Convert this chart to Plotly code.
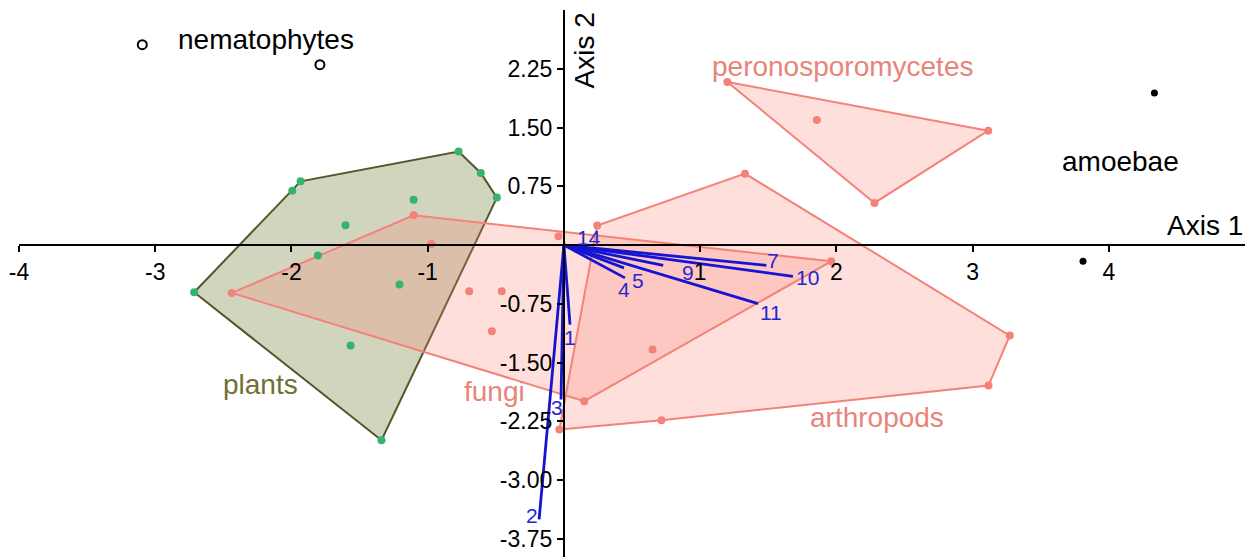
import plotly.graph_objects as go

# ---------------- data (ordination scores) ----------------
plants_x = [-2.714, -1.994, -1.933, -0.773, -0.610, -0.492, -1.339, -1.103, -1.603, -1.806, -1.207, -1.566]
plants_y = [-0.602, 0.695, 0.814, 1.193, 0.921, 0.606, -2.490, 0.580, 0.253, -0.134, -0.504, -1.282]

fungi_x = [-2.438, -1.103, 1.962, 0.150, -0.040, -0.973, -0.695, -0.456, -0.529, 0.651]
fungi_y = [-0.610, 0.380, -0.207, -1.992, 0.112, 0.015, -0.589, -0.589, -1.099, -1.333]

arthropods_x = [-0.033, 0.716, 3.117, 3.273, 1.330, 0.245]
arthropods_y = [-2.353, -2.235, -1.792, -1.154, 0.912, 0.249]

perono_x = [1.200, 3.115, 2.280, 1.857]
perono_y = [2.082, 1.460, 0.538, 1.597]

amoebae_x = [4.335, 3.811]
amoebae_y = [1.941, -0.207]

nemato_x = [-3.095, -1.791]
nemato_y = [2.557, 2.302]

vector_labels = ["1", "2", "3", "4", "5", "9", "7", "10", "11", "14"]
vector_x = [0.045, -0.182, -0.021, 0.448, 0.441, 0.729, 1.486, 1.681, 1.425, 0.10]
vector_y = [-1.014, -3.501, -1.971, -0.418, -0.291, -0.258, -0.258, -0.398, -0.746, -0.01]

x_ticks = [-4, -3, -2, -1, 1, 2, 3, 4]
x_ticktext = ["-4", "-3", "-2", "-1", "1", "2", "3", "4"]
y_ticks = [2.25, 1.5, 0.75, -0.75, -1.5, -2.25, -3.0, -3.75]
y_ticktext = ["2.25", "1.50", "0.75", "-0.75", "-1.50", "-2.25", "-3.00", "-3.75"]

X_RANGE = [-4.0, 5.0]
Y_RANGE = [-3.98, 3.0]

# label offsets (pixels) of each vector label from its arrow tip
label_shift = {"1": (0, -13), "2": (-7, 4), "3": (-4, -8), "4": (-1, -12), "5": (14, -13),
               "9": (25, -7), "7": (7, 5), "10": (15, -1), "11": (13, -9), "14": (11, 8)}

FONT = "Arial, Liberation Sans, sans-serif"
SALMON = "#f3837a"
SALMON_FILL = "rgba(250,128,114,0.25)"
GREEN = "#35b36f"
OLIVE_LINE = "#55552a"
OLIVE_FILL = "rgba(107,117,40,0.30)"
BLUE = "#1414d2"


def hull(xs, ys):
    pts = sorted(set(zip(xs, ys)))
    if len(pts) < 3:
        return pts

    def cross(o, a, b):
        return (a[0] - o[0]) * (b[1] - o[1]) - (a[1] - o[1]) * (b[0] - o[0])

    lower, upper = [], []
    for p in pts:
        while len(lower) >= 2 and cross(lower[-2], lower[-1], p) <= 0:
            lower.pop()
        lower.append(p)
    for p in reversed(pts):
        while len(upper) >= 2 and cross(upper[-2], upper[-1], p) <= 0:
            upper.pop()
        upper.append(p)
    h = lower[:-1] + upper[:-1]
    h.append(h[0])
    return h


def hull_trace(xs, ys, fill, line):
    h = hull(xs, ys)
    return go.Scatter(x=[p[0] for p in h], y=[p[1] for p in h], mode="lines",
                      fill="toself", fillcolor=fill, line=dict(color=line, width=2),
                      hoverinfo="skip", showlegend=False)


fig = go.Figure()

# polygons
fig.add_trace(hull_trace(plants_x, plants_y, OLIVE_FILL, OLIVE_LINE))
fig.add_trace(hull_trace(fungi_x, fungi_y, SALMON_FILL, SALMON))
fig.add_trace(hull_trace(arthropods_x, arthropods_y, SALMON_FILL, SALMON))
fig.add_trace(hull_trace(perono_x, perono_y, SALMON_FILL, SALMON))

# vectors
for lab, vx, vy in zip(vector_labels, vector_x, vector_y):
    fig.add_trace(go.Scatter(x=[0, vx], y=[0, vy], mode="lines",
                             line=dict(color=BLUE, width=2.8), showlegend=False,
                             hoverinfo="skip"))
    dx, dy = label_shift[lab]
    fig.add_annotation(x=vx, y=vy, text=lab, showarrow=False, xanchor="center",
                       yanchor="middle", xshift=dx, yshift=dy,
                       font=dict(family=FONT, size=21, color="#2626cf"))

# points
fig.add_trace(go.Scatter(x=plants_x, y=plants_y, mode="markers",
                         marker=dict(color=GREEN, size=8), showlegend=False))
for xs, ys in [(fungi_x, fungi_y), (arthropods_x, arthropods_y), (perono_x, perono_y)]:
    fig.add_trace(go.Scatter(x=xs, y=ys, mode="markers",
                             marker=dict(color=SALMON, size=8), showlegend=False))
fig.add_trace(go.Scatter(x=amoebae_x, y=amoebae_y, mode="markers",
                         marker=dict(color="black", size=7), showlegend=False))
fig.add_trace(go.Scatter(x=nemato_x, y=nemato_y, mode="markers",
                         marker=dict(color="white", size=9, line=dict(color="black", width=2)),
                         showlegend=False))

# group labels
labels = [
    ("nematophytes", -2.85, 2.62, "black"),
    ("peronosporomycetes", 1.07, 2.28, "#e8847a"),
    ("amoebae", 3.64, 1.07, "black"),
    ("plants", -2.52, -1.78, "#707030"),
    ("fungi", -0.75, -1.87, "#e8847a"),
    ("arthropods", 1.79, -2.20, "#e8847a"),
]
for t, x, y, c in labels:
    fig.add_annotation(x=x, y=y, text=t, showarrow=False, xanchor="left", yanchor="middle",
                       font=dict(family=FONT, size=28, color=c))

fig.add_annotation(x=5.0, y=0.0, text="Axis 1", showarrow=False, xanchor="right",
                   yanchor="bottom", yshift=2, font=dict(family=FONT, size=28, color="black"))
fig.add_annotation(x=0.0, y=3.0, text="Axis 2", showarrow=False, xanchor="left",
                   yanchor="top", xshift=3, textangle=-90,
                   font=dict(family=FONT, size=28, color="black"))

# the page body adds an 8px margin, so the figure is sized to sit inside the window
fig.update_layout(
    width=1247, height=549,
    margin=dict(l=11, r=10, t=2, b=0, autoexpand=False),
    paper_bgcolor="white", plot_bgcolor="white",
    showlegend=False,
    xaxis=dict(range=X_RANGE, showgrid=False, zeroline=False, showline=True, automargin=False,
               linecolor="black", linewidth=2, ticks="outside", ticklen=6, tickwidth=2,
               tickcolor="black", tickvals=x_ticks, ticktext=x_ticktext,
               tickfont=dict(family=FONT, size=23, color="black"),
               anchor="free", position=(0 - Y_RANGE[0]) / (Y_RANGE[1] - Y_RANGE[0])),
    yaxis=dict(range=Y_RANGE, showgrid=False, zeroline=False, showline=True, automargin=False,
               linecolor="black", linewidth=2, ticks="outside", ticklen=6, tickwidth=2,
               tickcolor="black", tickvals=y_ticks, ticktext=y_ticktext,
               tickfont=dict(family=FONT, size=23, color="black"),
               anchor="free", position=(0 - X_RANGE[0]) / (X_RANGE[1] - X_RANGE[0])),
)

fig.write_html("out.html")
